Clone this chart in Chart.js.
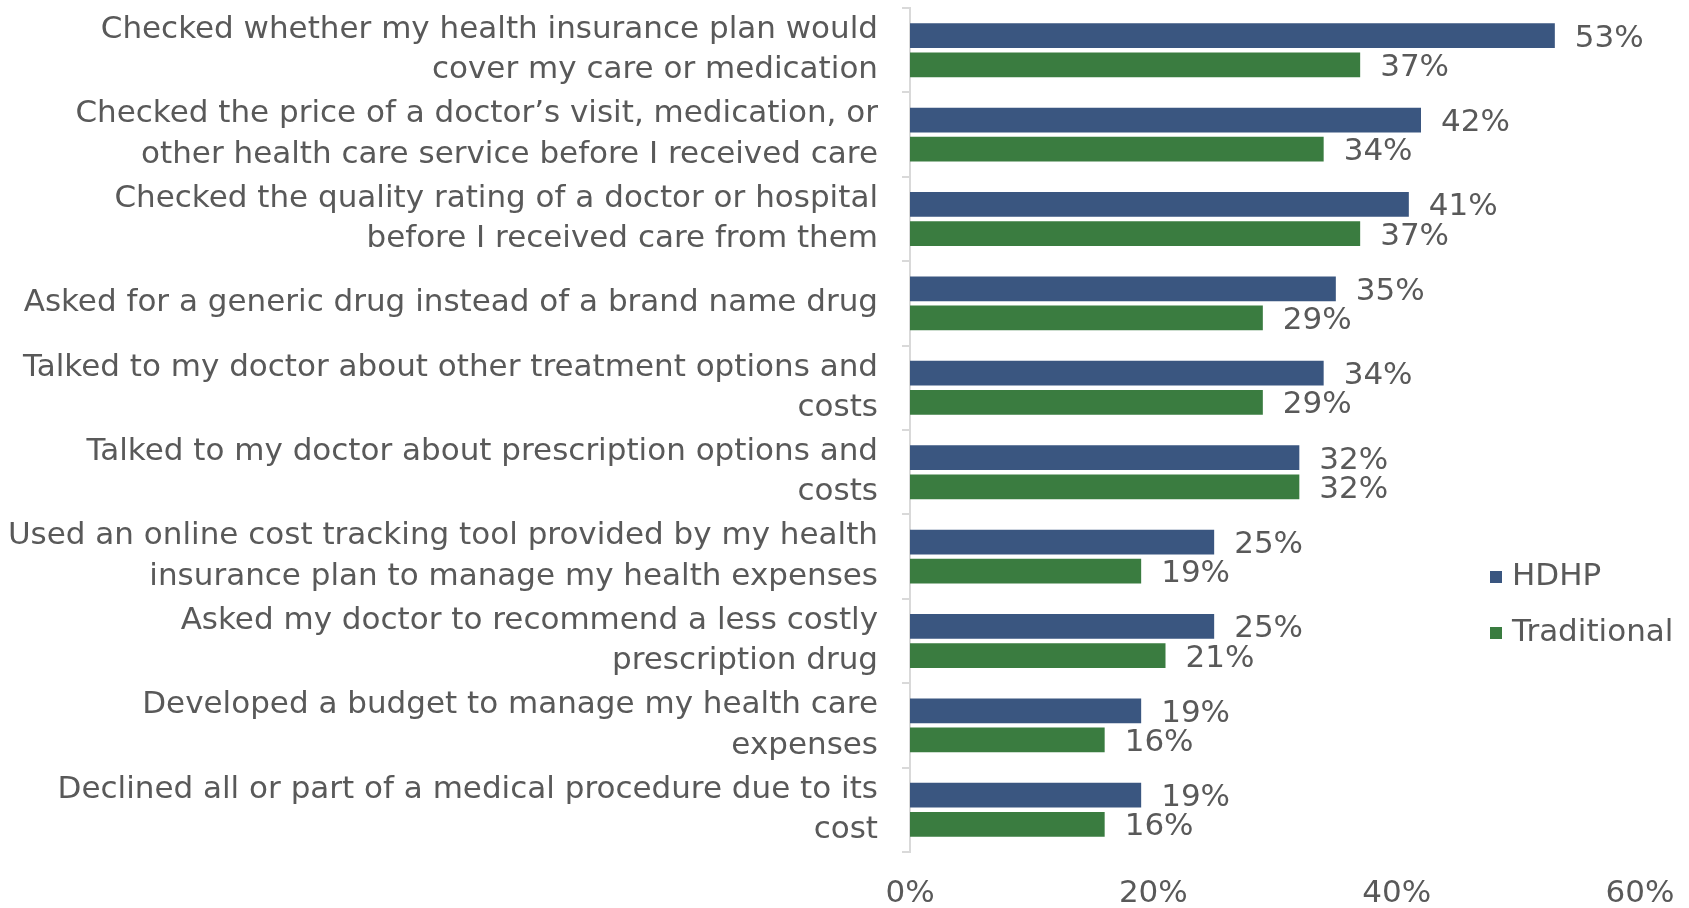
<!DOCTYPE html>
<html>
<head>
<meta charset="utf-8">
<script src="https://cdn.jsdelivr.net/npm/chart.js@4.4.0/dist/chart.umd.min.js"></script>
<style>
  html, body { margin: 0; padding: 0; background: #ffffff; }
  #wrap { width: 1689px; height: 908px; }
</style>
</head>
<body>
<div id="wrap"><canvas id="c" width="1689" height="908"></canvas></div>
<script>
const categories = [
  ["Checked whether my health insurance plan would", "cover my care or medication"],
  ["Checked the price of a doctor\u2019s visit, medication, or", "other health care service before I received care"],
  ["Checked the quality rating of a doctor or hospital", "before I received care from them"],
  "Asked for a generic drug instead of a brand name drug",
  ["Talked to my doctor about other treatment options and", "costs"],
  ["Talked to my doctor about prescription options and", "costs"],
  ["Used an online cost tracking tool provided by my health", "insurance plan to manage my health expenses"],
  ["Asked my doctor to recommend a less costly", "prescription drug"],
  ["Developed a budget to manage my health care", "expenses"],
  ["Declined all or part of a medical procedure due to its", "cost"]
];
const hdhpValues = [53, 42, 41, 35, 34, 32, 25, 25, 19, 19];
const traditionalValues = [37, 34, 37, 29, 29, 32, 19, 21, 16, 16];
const seriesNames = ["HDHP", "Traditional"];
const xTickMax = 60;
const xTickStep = 20;

const FONT = "'DejaVu Sans', sans-serif";
const FS = 31;
const TEXT = '#595959';
const colors = ['#3A5680', '#3A7C40'];

const valueLabels = {
  id: 'valueLabels',
  afterDatasetsDraw(chart) {
    const ctx = chart.ctx;
    ctx.save();
    ctx.font = FS + "px " + FONT;
    ctx.fillStyle = TEXT;
    ctx.textAlign = 'left';
    ctx.textBaseline = 'middle';
    chart.data.datasets.forEach((ds, di) => {
      const meta = chart.getDatasetMeta(di);
      meta.data.forEach((el, i) => {
        ctx.fillText(ds.data[i] + '%', el.x + 20, el.y + 3);
      });
    });
    ctx.restore();
  }
};

const sideLegend = {
  id: 'sideLegend',
  afterDraw(chart) {
    const ctx = chart.ctx;
    ctx.save();
    ctx.font = FS + "px " + FONT;
    ctx.textBaseline = 'middle';
    ctx.textAlign = 'left';
    const x0 = 1490;
    const ys = [577, 633];
    chart.data.datasets.forEach((ds, i) => {
      ctx.fillStyle = ds.backgroundColor;
      ctx.fillRect(x0, ys[i] - 6, 12, 12);
      ctx.fillStyle = TEXT;
      ctx.fillText(ds.label, x0 + 22, ys[i]);
    });
    ctx.restore();
  }
};

new Chart(document.getElementById('c'), {
  type: 'bar',
  data: {
    labels: categories,
    datasets: [
      { label: seriesNames[0], data: hdhpValues, backgroundColor: colors[0] },
      { label: seriesNames[1], data: traditionalValues, backgroundColor: colors[1] }
    ]
  },
  options: {
    indexAxis: 'y',
    responsive: false,
    animation: false,
    devicePixelRatio: 1,
    categoryPercentage: 0.69,
    barPercentage: 0.85,
    layout: { padding: { top: 8, right: 49, bottom: 0, left: 0 } },
    plugins: {
      legend: { display: false },
      tooltip: { enabled: false }
    },
    scales: {
      x: {
        min: 0,
        max: xTickMax,
        grid: { display: false, drawTicks: false },
        border: { display: false },
        afterFit: s => { s.height = 56; s.paddingRight = 0; s.paddingLeft = 0; },
        ticks: {
          stepSize: xTickStep,
          padding: 23,
          color: TEXT,
          font: { family: FONT, size: FS },
          callback: v => v + '%'
        }
      },
      y: {
        grid: { drawOnChartArea: false, drawTicks: true, tickLength: 8, color: '#d9d9d9', lineWidth: 2 },
        border: { display: true, color: '#d9d9d9', width: 2 },
        afterFit: s => { s.width = 910; s.paddingTop = 0; s.paddingBottom = 0; },
        ticks: {
          padding: 24,
          color: TEXT,
          autoSkip: false,
          font: { family: FONT, size: FS, lineHeight: 1.3 }
        }
      }
    }
  },
  plugins: [valueLabels, sideLegend]
});
</script>
</body>
</html>
